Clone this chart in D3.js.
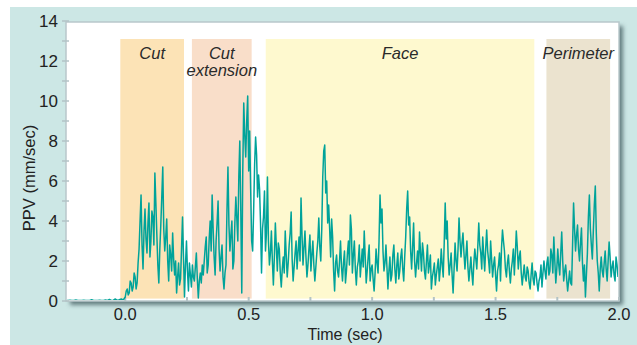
<!DOCTYPE html>
<html><head><meta charset="utf-8">
<script src="https://cdn.jsdelivr.net/npm/d3@7"></script>
<style>body{margin:0;background:#fff}svg{display:block;font-family:"Liberation Sans",Arial,sans-serif}</style>
</head><body>
<script>
// ---- data ----
const preStart = -0.24;    // seconds, first pre-trigger sample
const preStep = 0.008;     // seconds between pre-trigger samples
const preTrigger = [0.03,0.03,0.04,0.03,0.03,0.05,0.03,0.03,0.03,0.04,0.03,0.03,0.03,0.06,0.03,0.03,0.03,0.04,0.03,0.03,0.05,0.03,0.08,0.03,0.04,0.1,0.03,0.06,0.1,0.05];
const ppvStart = 0.0;      // seconds, trigger time
const ppvStep = 0.004;     // seconds between samples
const ppv = [
0.2,0.5,0.6,0.3,0.4,1.0,0.9,0.5,0.7,1.4,1.2,0.6,0.9,1.9,2.6,4.0,5.3,2.8,1.6,3.5,
4.6,3.1,2.4,3.9,4.9,2.2,3.0,4.5,4.2,2.8,6.4,4.9,3.3,1.8,0.9,2.6,3.8,5.2,6.7,3.6,
2.5,3.2,4.1,2.0,1.0,2.8,2.3,1.5,3.4,2.1,1.3,2.0,0.4,1.2,1.9,0.8,1.1,2.6,4.2,2.2,
0.2,1.8,3.0,1.5,0.5,1.9,1.3,0.7,1.8,1.2,1.0,1.7,2.4,1.1,0.15,1.0,1.4,0.9,1.8,1.3,
2.0,2.7,3.2,1.4,1.8,3.1,4.0,2.5,5.3,3.6,2.2,1.3,3.0,3.9,5.0,2.6,1.5,2.2,2.8,1.2,
0.6,1.4,1.8,4.5,6.7,3.8,2.5,3.3,4.0,1.6,2.0,3.9,5.2,4.1,3.0,6.2,8.0,4.5,0.4,6.5,
9.9,8.3,7.2,9.0,10.25,6.5,8.5,5.6,3.0,2.5,4.5,6.8,8.2,7.3,5.2,6.3,5.6,3.9,1.4,3.6,
4.2,5.5,2.5,3.4,6.2,3.0,1.8,2.4,3.5,2.0,0.8,2.2,3.9,2.7,1.5,2.9,2.6,1.4,0.7,1.6,
2.2,1.4,3.5,2.3,1.2,1.9,2.8,3.4,4.45,2.1,1.0,1.7,2.4,3.0,1.6,2.5,3.2,2.0,5.15,3.3,
1.8,2.7,3.5,2.2,1.2,1.8,2.6,3.3,1.5,2.3,3.0,1.8,1.0,1.7,2.4,3.0,4.15,2.7,2.0,3.6,
6.2,7.5,7.8,5.4,6.0,3.9,4.8,3.6,2.2,4.1,3.2,1.5,0.5,1.9,2.3,1.5,1.2,2.0,3.0,1.7,
1.0,1.9,2.5,0.9,1.5,2.4,3.0,1.8,4.3,3.6,1.4,2.3,3.0,1.6,0.8,1.7,2.0,2.8,1.2,1.9,
2.6,1.7,3.5,2.2,0.9,1.5,2.2,2.8,1.0,1.6,1.8,1.1,0.5,1.4,2.6,1.9,1.4,3.0,5.3,3.9,
4.6,2.5,1.5,1.9,2.8,1.7,0.6,1.5,2.2,1.0,1.3,2.3,2.8,1.6,0.9,1.8,2.4,1.1,1.5,2.2,
2.6,1.6,1.0,2.2,3.2,4.6,5.5,3.8,4.2,2.5,1.6,2.7,3.9,2.0,1.2,1.9,2.5,1.6,3.45,2.4,
1.5,2.9,2.4,1.5,1.1,2.0,2.8,1.4,1.8,2.3,0.6,1.2,1.5,1.9,0.8,1.3,1.7,2.1,1.0,1.6,
2.6,1.8,1.2,2.9,4.9,3.1,4.0,2.2,1.3,1.8,2.4,1.3,0.4,1.6,2.9,2.0,1.5,2.6,4.15,3.0,
2.2,2.9,3.4,2.4,1.6,2.3,3.0,1.7,1.0,1.6,2.2,1.4,0.8,1.9,2.6,2.1,1.6,2.7,3.9,2.8,
2.4,1.6,3.2,2.3,1.5,2.6,3.55,2.5,2.0,1.4,3.0,2.1,1.2,1.8,2.2,1.3,0.5,1.5,1.8,2.4,
1.0,2.6,3.55,3.0,2.5,1.6,1.2,1.9,2.3,1.5,0.9,1.6,2.0,2.6,1.3,2.3,3.5,2.7,1.6,2.2,
2.5,1.4,0.8,1.3,1.8,1.2,1.0,1.7,1.5,0.9,0.6,1.3,1.9,1.1,0.8,1.5,1.4,0.9,0.5,1.0,
1.2,1.8,0.7,1.4,2.0,1.5,1.1,1.9,2.2,1.3,1.5,2.6,2.3,1.4,3.2,2.0,0.9,1.6,2.6,1.8,
1.3,2.4,3.45,2.0,1.0,1.5,1.8,1.1,0.5,1.0,1.5,0.9,0.8,2.8,4.9,3.6,2.5,3.3,3.8,2.6,
2.0,2.9,3.65,1.9,1.0,1.8,0.2,1.3,2.4,4.2,5.3,3.6,2.8,2.1,3.5,4.8,5.75,3.4,2.0,1.4,
0.5,1.6,2.2,1.5,1.2,1.9,2.5,1.6,1.0,2.0,2.95,2.2,1.2,1.7,2.0,1.3,1.0,2.2,1.8,1.2
];
const phaseNames = ["Cut", "Cut\nextension", "Face", "Perimeter"];
const phaseStart = [-0.02, 0.27, 0.569, 1.706];
const phaseEnd = [0.238, 0.512, 1.657, 1.964];
const phaseColors = ["#fce3b6", "#f9dec9", "#fef9cf", "#ebe3cf"];
const phaseTop = 13.1;
const xTicks = [0, 0.5, 1.0, 1.5, 2.0];
const xTickLabels = ["0.0", "0.5", "1.0", "1.5", "2.0"];
const xMinorTicks = [0.25, 0.75, 1.25, 1.75];
const yTicks = [0, 2, 4, 6, 8, 10, 12, 14];
const yMinorTicks = [1, 3, 5, 7, 9, 11, 13];

// ---- drawing ----
const W = 637, H = 345;
const svg = d3.select("body").append("svg").attr("width", W).attr("height", H);
const defs = svg.append("defs");
const f = defs.append("filter").attr("id","sh").attr("x","-5%").attr("y","-5%").attr("width","115%").attr("height","115%");
f.append("feDropShadow").attr("dx",4).attr("dy",4).attr("stdDeviation",2).attr("flood-color","#3f5c5e").attr("flood-opacity",0.75);

svg.append("rect").attr("x",10).attr("y",7).attr("width",W-10).attr("height",H-7).attr("fill","#cce7e5");

const L = 66, R = 619, T = 21, B = 301;
const x = d3.scaleLinear().domain([-0.24, 2.0]).range([L, R]);
const y = d3.scaleLinear().domain([0, 14]).range([B, T]);

svg.append("rect").attr("x",L).attr("y",T+1).attr("width",R-L).attr("height",B-T-1)
  .attr("fill","#fff").attr("filter","url(#sh)");
svg.append("rect").attr("x",L).attr("y",T+1).attr("width",R-L).attr("height",B-T-1)
  .attr("fill","none").attr("stroke","#b9c8cb").attr("stroke-width",1.5);

defs.append("clipPath").attr("id","clip").append("rect").attr("x",L+1).attr("y",T+1).attr("width",R-L-2).attr("height",B-T-2);

const bands = svg.append("g");
phaseNames.forEach((n,i)=>{
  bands.append("rect").attr("x",x(phaseStart[i])).attr("width",x(phaseEnd[i])-x(phaseStart[i]))
    .attr("y",y(phaseTop)).attr("height",y(0.12)-y(phaseTop)).attr("fill",phaseColors[i]);
  const cx = (x(phaseStart[i])+x(phaseEnd[i]))/2;
  n.split("\n").forEach((ln,k)=>{
    bands.append("text").attr("x",cx).attr("y",59+k*17).attr("text-anchor","middle")
      .attr("font-style","italic").attr("font-size",16.5).attr("fill","#2a2a2a").text(ln);
  });
});

// ticks
const tickColor = "#b3c3c6";
svg.append("g").selectAll("line").data(yTicks.concat(yMinorTicks)).join("line")
  .attr("x1",L-4).attr("x2",L+3).attr("y1",d=>y(d)).attr("y2",d=>y(d))
  .attr("stroke",tickColor).attr("stroke-width",1.5);
svg.append("g").selectAll("text").data(yTicks).join("text")
  .attr("x",58).attr("y",d=>y(d)+6).attr("text-anchor","end").attr("font-size",17).attr("fill","#222")
  .text(d=>d);
svg.append("g").selectAll("line").data(xTicks.concat(xMinorTicks)).join("line")
  .attr("x1",d=>x(d)).attr("x2",d=>x(d)).attr("y1",B-4).attr("y2",B)
  .attr("stroke",tickColor).attr("stroke-width",2);
svg.append("g").selectAll("text").data(xTicks).join("text")
  .attr("x",d=>x(d)).attr("y",320).attr("text-anchor","middle").attr("font-size",16.5).attr("fill","#222")
  .text((d,i)=>xTickLabels[i]);

svg.append("text").attr("transform","translate(35,178) rotate(-90)").attr("text-anchor","middle")
  .attr("font-size",16.5).attr("fill","#222").text("PPV (mm/sec)");
svg.append("text").attr("x",345).attr("y",340).attr("text-anchor","middle")
  .attr("font-size",16).attr("fill","#222").text("Time (sec)");

// series
const series = preTrigger.map((v,i)=>({t: preStart + i*preStep, v}))
  .concat(ppv.map((v,i)=>({t: ppvStart + i*ppvStep, v})));
svg.append("path").datum(series).attr("clip-path","url(#clip)")
  .attr("fill","none").attr("stroke","#00a39a").attr("stroke-width",1.5).attr("stroke-linejoin","round")
  .attr("d", d3.line().x(d=>x(d.t)).y(d=>y(d.v)));
</script>
</body></html>
